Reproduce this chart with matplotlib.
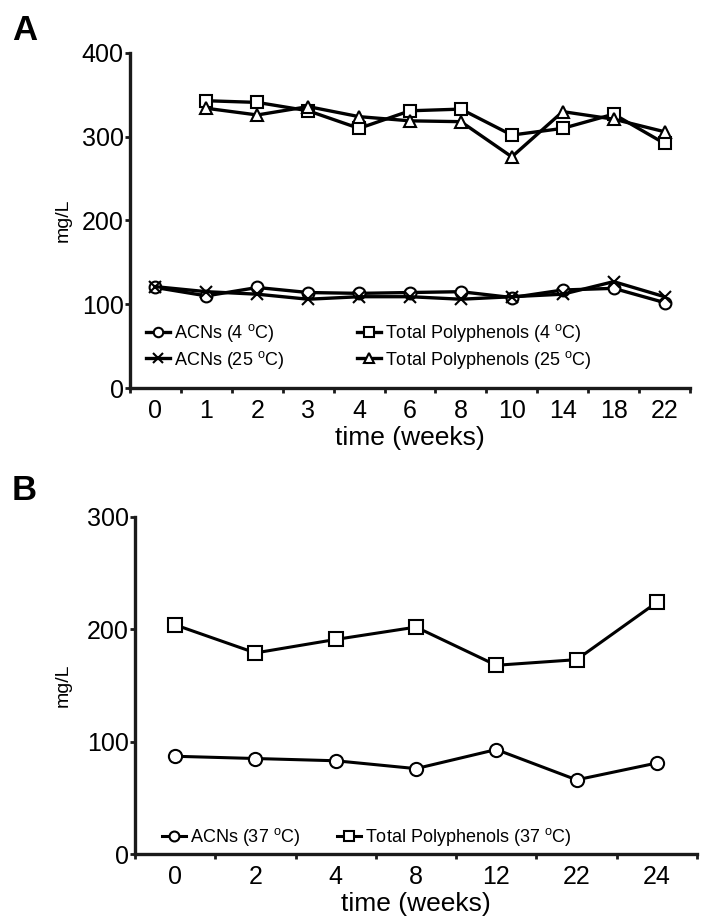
import matplotlib
matplotlib.use("Agg")
import matplotlib.pyplot as plt
import numpy as np

plt.rcParams['font.family'] = ['Liberation Sans', 'DejaVu Sans']
plt.rcParams['mathtext.fontset'] = 'custom'
plt.rcParams['mathtext.rm'] = 'Liberation Sans'

# Panel A data
weeks_a = ['0', '1', '2', '3', '4', '6', '8', '10', '14', '18', '22']
acn_4 = [120, 110, 120, 114, 113, 114, 115, 108, 117, 119, 102]
acn_25 = [121, 115, 112, 106, 109, 109, 106, 109, 112, 127, 109]
tp_4 = [None, 343, 341, 331, 310, 331, 333, 302, 310, 327, 292]
tp_25 = [None, 334, 326, 336, 324, 319, 318, 276, 330, 321, 306]

# Panel B data
weeks_b = ['0', '2', '4', '8', '12', '22', '24']
acn_37 = [87, 85, 83, 76, 93, 66, 81]
tp_37 = [204, 179, 191, 202, 168, 173, 224]

INK = '#1a1a1a'

fig = plt.figure(figsize=(7.04, 9.21), dpi=100)
axA = fig.add_axes([130/704, 1-388/921, (690-130)/704, (388-53)/921])
axB = fig.add_axes([135/704, 1-854/921, (697-135)/704, (854-517)/921])


def style(ax, labels, ylim, yticks):
    n = len(labels)
    ax.set_xlim(-0.5, n - 0.5)
    ax.set_ylim(*ylim)
    for s in ['top', 'right']:
        ax.spines[s].set_visible(False)
    for s in ['left', 'bottom']:
        ax.spines[s].set_linewidth(2.4)
        ax.spines[s].set_color(INK)
    ax.set_xticks(range(n))
    ax.set_xticklabels(labels)
    ax.set_xticks(np.arange(-0.5, n, 1.0), minor=True)
    ax.tick_params(axis='x', which='major', length=0, labelsize=18, pad=8)
    ax.tick_params(axis='x', which='minor', length=3.5, width=2, direction='out', color=INK)
    ax.set_yticks(yticks)
    ax.tick_params(axis='y', length=3.5, width=2, direction='out', labelsize=18, pad=1, color=INK)
    ax.set_xlabel('time (weeks)', fontsize=19, labelpad=2)
    ax.set_ylabel('mg/L', fontsize=14)


xa = np.arange(len(weeks_a))
tp4 = np.array([np.nan if v is None else v for v in tp_4], dtype=float)
tp25 = np.array([np.nan if v is None else v for v in tp_25], dtype=float)

kw = dict(color='black', lw=2.4, mec='black', mfc='white', mew=1.5, ms=8.5)
axA.plot(xa, acn_4, marker='o', label=r'ACNs (4 $^{\rm o}$C)', **kw)
axA.plot(xa, acn_25, marker='x', label=r'ACNs (25 $^{\rm o}$C)', **kw)
axA.plot(xa, tp4, marker='s', label=r'Total Polyphenols (4 $^{\rm o}$C)', **kw)
axA.plot(xa, tp25, marker='^', label=r'Total Polyphenols (25 $^{\rm o}$C)', **kw)
style(axA, weeks_a, (0, 400), [0, 100, 200, 300, 400])
axA.yaxis.set_label_coords(-0.105, 0.5)
axA.legend(ncol=2, loc='lower left', bbox_to_anchor=(0.0, 0.003), frameon=False,
           fontsize=13, handlelength=1.3, handletextpad=0.25, columnspacing=4.0,
           labelspacing=0.25, markerscale=0.8)

xb = np.arange(len(weeks_b))
kwb = dict(color='black', lw=2.2, mec='black', mfc='white', mew=1.5, ms=9.5)
axB.plot(xb, acn_37, marker='o', label=r'ACNs (37 $^{\rm o}$C)', **kwb)
axB.plot(xb, tp_37, marker='s', label=r'Total Polyphenols (37 $^{\rm o}$C)', **kwb)
style(axB, weeks_b, (0, 300), [0, 100, 200, 300])
axB.yaxis.set_label_coords(-0.113, 0.5)
axB.legend(ncol=2, loc='lower left', bbox_to_anchor=(0.02, -0.03), frameon=False,
           fontsize=13, handlelength=1.3, handletextpad=0.25, columnspacing=2.0,
           markerscale=0.75)

fig.text(12/704, 1-40/921, 'A', fontsize=25, fontweight='bold', ha='left', va='baseline')
fig.text(12/704, 1-500/921, 'B', fontsize=25, fontweight='bold', ha='left', va='baseline')

fig.savefig('out.png', dpi=100)
